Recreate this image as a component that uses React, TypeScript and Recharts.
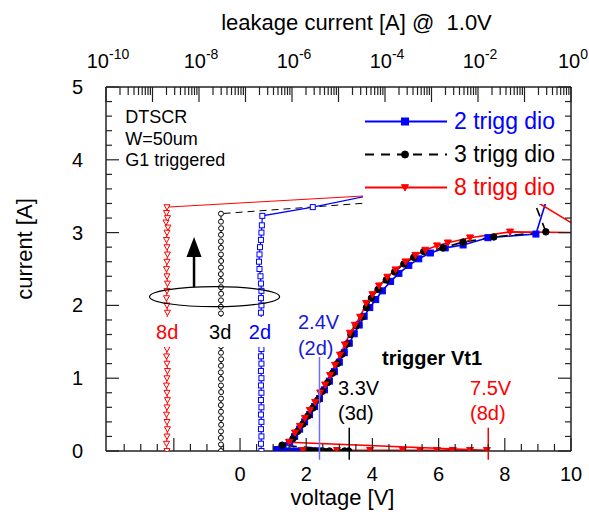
import React from "react";
import { ComposedChart, Line, XAxis, YAxis, Legend, ReferenceLine, ReferenceDot, Label } from "recharts";

const FONT = "'Liberation Sans', Arial, Helvetica, sans-serif";
const BLUE = "#0000ff";
const RED = "#ff0000";
const BLACK = "#000000";
const FRAME = "#222222";

// TLP I-V, 2 trigger diodes (pre-trigger branch, then snapback branch)
const dio2V = [1.25, 1.4, 1.55, 1.7, 1.85, 2.0, 2.15, 2.3, 2.4, 1.1, 1.3, 1.5, 1.65, 1.8, 1.95, 2.1, 2.25, 2.4, 2.55, 2.7, 2.85, 3.0, 3.15, 3.3, 3.45, 3.6, 3.75, 3.92, 4.1, 4.3, 4.55, 4.8, 5.1, 5.4, 5.75, 6.2, 6.74, 7.49, 8.94, 9.4];
const dio2I = [0, 0, 0, 0, 0, 0, 0, 0, 0, 0.02, 0.06, 0.12, 0.2, 0.3, 0.4, 0.5, 0.61, 0.72, 0.84, 0.96, 1.09, 1.22, 1.35, 1.48, 1.61, 1.73, 1.85, 1.97, 2.08, 2.2, 2.33, 2.44, 2.55, 2.64, 2.72, 2.79, 2.83, 2.93, 2.98, 3.65];

// TLP I-V, 3 trigger diodes
const dio3V = [1.95, 2.1, 2.26, 2.5, 2.7, 2.94, 3.16, 3.28, 1.27, 1.6, 1.74, 1.9, 2.05, 2.2, 2.35, 2.49, 2.65, 2.8, 2.94, 3.08, 3.23, 3.35, 3.51, 3.68, 3.82, 3.97, 4.17, 4.42, 4.67, 4.95, 5.25, 5.55, 6.13, 6.74, 7.67, 9.24, 8.64];
const dio3I = [0, 0, 0, 0, 0, 0, 0, 0, 0.08, 0.17, 0.27, 0.37, 0.48, 0.59, 0.7, 0.82, 0.94, 1.07, 1.2, 1.33, 1.47, 1.6, 1.72, 1.84, 1.97, 2.1, 2.22, 2.35, 2.46, 2.57, 2.66, 2.74, 2.79, 2.87, 2.94, 3.01, 3.72];

// TLP I-V, 8 trigger diodes
const dio8V = [1.9, 2.93, 3.93, 4.92, 5.44, 5.95, 6.43, 6.95, 7.46, 1.48, 1.66, 1.81, 1.96, 2.11, 2.27, 2.42, 2.57, 2.72, 2.87, 3.02, 3.17, 3.32, 3.47, 3.63, 3.81, 4.0, 4.2, 4.45, 4.7, 5.0, 5.3, 5.6, 5.95, 6.28, 6.95, 8.16, 10.5, 6.5];
const dio8I = [0.01, 0.01, 0.01, 0.01, 0.01, 0.01, 0.01, 0.01, 0.01, 0.12, 0.25, 0.34, 0.45, 0.56, 0.67, 0.8, 0.91, 1.04, 1.18, 1.32, 1.46, 1.62, 1.73, 1.84, 2.03, 2.15, 2.27, 2.39, 2.49, 2.6, 2.69, 2.76, 2.82, 2.86, 2.93, 3.01, 3.0, 4.1];

// leakage @ 1.0V after each pulse (top axis) vs pulse current
const leak2I = [0, 0.1, 0.2, 0.3, 0.4, 0.5, 0.6, 0.7, 0.8, 0.9, 1.0, 1.1, 1.2, 1.3, 1.4, 1.5, 1.6, 1.7, 1.8, 1.9, 2.0, 2.1, 2.2, 2.3, 2.4, 2.5, 2.6, 2.7, 2.8, 2.9, 3.0, 3.1, 3.23, 3.35, 3.65];
const leak2A = [2.2e-7, 2.15e-7, 2.2e-7, 2.15e-7, 2.2e-7, 2.15e-7, 2.2e-7, 2.15e-7, 2.2e-7, 2.15e-7, 2.2e-7, 2.15e-7, 2.2e-7, 2.15e-7, 2.2e-7, 2.15e-7, 2.2e-7, 2.15e-7, 2.2e-7, 2.15e-7, 2.2e-7, 2.15e-7, 2.2e-7, 2.15e-7, 2.1e-7, 2.0e-7, 1.95e-7, 2.0e-7, 2.05e-7, 2.15e-7, 2.2e-7, 2.25e-7, 2.3e-7, 2.8e-6, 5.6e-4];

const leak3I = [0, 0.09, 0.18, 0.27, 0.36, 0.45, 0.54, 0.63, 0.72, 0.81, 0.9, 0.99, 1.08, 1.17, 1.26, 1.35, 1.44, 1.53, 1.62, 1.71, 1.8, 1.89, 1.98, 2.07, 2.16, 2.25, 2.34, 2.43, 2.52, 2.61, 2.7, 2.79, 2.88, 2.97, 3.06, 3.15, 3.26, 3.49];
const leak3A = [2.97e-8, 2.97e-8, 2.95e-8, 2.97e-8, 2.99e-8, 2.97e-8, 2.97e-8, 2.95e-8, 2.97e-8, 2.99e-8, 2.97e-8, 2.97e-8, 2.95e-8, 2.97e-8, 2.99e-8, 2.97e-8, 2.97e-8, 2.95e-8, 2.97e-8, 2.99e-8, 2.97e-8, 2.97e-8, 2.95e-8, 2.97e-8, 2.99e-8, 2.97e-8, 2.97e-8, 2.95e-8, 2.97e-8, 2.99e-8, 2.97e-8, 2.97e-8, 2.95e-8, 2.97e-8, 2.99e-8, 2.97e-8, 2.97e-8, 2.5e-3];

const leak8I = [0, 0.1, 0.2, 0.3, 0.4, 0.5, 0.6, 0.7, 0.8, 0.9, 1.0, 1.1, 1.2, 1.3, 1.4, 1.5, 1.6, 1.7, 1.8, 1.9, 2.0, 2.1, 2.2, 2.3, 2.4, 2.5, 2.6, 2.7, 2.8, 2.9, 3.0, 3.07, 3.14, 3.2, 3.27, 3.35, 3.57];
const leak8A = [2.05e-9, 2.0e-9, 2.05e-9, 2.1e-9, 2.05e-9, 2.0e-9, 2.05e-9, 2.1e-9, 2.05e-9, 2.0e-9, 2.05e-9, 2.1e-9, 2.05e-9, 2.0e-9, 2.05e-9, 2.1e-9, 2.05e-9, 2.0e-9, 2.05e-9, 2.1e-9, 2.05e-9, 2.0e-9, 2.05e-9, 2.1e-9, 2.05e-9, 2.0e-9, 2.05e-9, 2.1e-9, 2.05e-9, 2.0e-9, 2.05e-9, 2.15e-9, 1.95e-9, 2.1e-9, 2.0e-9, 2.05e-9, 2.5e-3];

// axis ticks
const voltTicks = [-3.5, -3, -2.5, -2, -1.5, -1, -0.5, 0, 0.5, 1, 1.5, 2, 2.5, 3, 3.5, 4, 4.5, 5, 5.5, 6, 6.5, 7, 7.5, 8, 8.5, 9, 9.5, 10];
const voltLabels = [0, 2, 4, 6, 8, 10];
const currTicks = [0, 0.2, 0.4, 0.6, 0.8, 1, 1.2, 1.4, 1.6, 1.8, 2, 2.2, 2.4, 2.6, 2.8, 3, 3.2, 3.4, 3.6, 3.8, 4, 4.2, 4.4, 4.6, 4.8, 5];
const currLabels = [0, 1, 2, 3, 4, 5];
const leakDecades = [-10, -9, -8, -7, -6, -5, -4, -3, -2, -1, 0];
const leakLabelExps = [-10, -8, -6, -4, -2, 0];
const leakMultipliers = [1, 2, 3, 4, 5, 6, 7, 8, 9];
const leakTicks = leakDecades
  .flatMap((e) => leakMultipliers.map((m) => m * Math.pow(10, e)))
  .filter((t) => t <= 1.0000001);

const ivData = (vs: number[], is: number[]) => vs.map((v, k) => ({ v, i: is[k] }));
const leakData = (as: number[], is: number[]) => as.map((leak, k) => ({ leak, i: is[k] }));

const near = (a: number, b: number) => Math.abs(a - b) < 1e-6;

// ---- markers ----
type Shape = "square" | "circle" | "triangle";

function Marker({ shape, cx, cy, size, color, filled }: { shape: Shape; cx: number; cy: number; size: number; color: string; filled: boolean }) {
  const fill = filled ? color : "#ffffff";
  const h = size / 2;
  if (shape === "square") return <rect x={cx - h} y={cy - h} width={size} height={size} fill={fill} stroke={color} strokeWidth={1} />;
  if (shape === "circle") return <circle cx={cx} cy={cy} r={h} fill={fill} stroke={color} strokeWidth={1} />;
  return <polygon points={`${cx - h},${cy - h * 0.8} ${cx + h},${cy - h * 0.8} ${cx},${cy + h}`} fill={fill} stroke={color} strokeWidth={1} />;
}

const dotOf = (shape: Shape, color: string, size: number, filled: boolean) => (p: any) => {
  const { cx, cy, index } = p;
  if (cx == null || cy == null || Number.isNaN(cx) || Number.isNaN(cy)) return <g key={index} />;
  return (
    <g key={index}>
      <Marker shape={shape} cx={cx} cy={cy} size={size} color={color} filled={filled} />
    </g>
  );
};

// ---- ticks (drawn inward, labels outside) ----
const leftTick = (p: any) => {
  const { x, y, payload } = p;
  const v = payload.value;
  const major = currLabels.some((l) => near(l, v));
  return (
    <g>
      <line x1={x} x2={x + (major ? 13 : 6)} y1={y} y2={y} stroke={FRAME} strokeWidth={1.2} />
      {major && (
        <text x={x - 23} y={y} dy="0.35em" textAnchor="end" fontSize={20} fontFamily={FONT} fill="#000">
          {v}
        </text>
      )}
    </g>
  );
};

const rightTick = (p: any) => {
  const { x, y, payload } = p;
  const major = currLabels.some((l) => near(l, payload.value));
  return <line x1={x} x2={x - (major ? 13 : 6)} y1={y} y2={y} stroke={FRAME} strokeWidth={1.2} />;
};

const bottomTick = (p: any) => {
  const { x, y, payload } = p;
  const v = payload.value;
  const major = near(v / 2, Math.round(v / 2));
  const labelled = voltLabels.some((l) => near(l, v));
  return (
    <g>
      <line x1={x} x2={x} y1={y} y2={y - (major ? 13 : 7)} stroke={FRAME} strokeWidth={1.2} />
      {labelled && (
        <text x={x} y={y + 23} dy="0.35em" textAnchor="middle" fontSize={20} fontFamily={FONT} fill="#000">
          {v}
        </text>
      )}
    </g>
  );
};

const topTick = (p: any) => {
  const { x, y, payload } = p;
  const e = Math.log10(payload.value);
  const decade = near(e, Math.round(e));
  const exp = Math.round(e);
  const labelled = decade && leakLabelExps.includes(exp);
  return (
    <g>
      <line x1={x} x2={x} y1={y} y2={y + (decade ? 15 : 8)} stroke={FRAME} strokeWidth={1.2} />
      {labelled && (
        <text x={x + 2} y={y - 19} textAnchor="middle" fontSize={20} fontFamily={FONT} fill="#000">
          <tspan>10</tspan>
          <tspan dy={-9} fontSize={14}>
            {exp}
          </tspan>
        </text>
      )}
    </g>
  );
};

// ---- annotations ----
type Note = { v: number; i: number; text: string; color: string; anchor?: "start" | "middle"; bold?: boolean; size?: number; box?: number };

const notes: Note[] = [
  { v: -3.47, i: 4.59, text: "DTSCR", color: BLACK, size: 18 },
  { v: -3.47, i: 4.29, text: "W=50um", color: BLACK, size: 18 },
  { v: -3.47, i: 4.0, text: "G1 triggered", color: BLACK, size: 18 },
  { v: -2.2, i: 1.635, text: "8d", color: RED, anchor: "middle", size: 20, box: 28 },
  { v: -0.6, i: 1.635, text: "3d", color: BLACK, anchor: "middle", size: 20, box: 28 },
  { v: 0.6, i: 1.635, text: "2d", color: BLUE, anchor: "middle", size: 20, box: 28 },
  { v: 1.75, i: 1.77, text: "2.4V", color: "#1a1ad6", size: 20 },
  { v: 1.75, i: 1.415, text: "(2d)", color: "#1a1ad6", size: 20 },
  { v: 4.29, i: 1.28, text: "trigger Vt1", color: BLACK, bold: true, size: 20 },
  { v: 2.96, i: 0.865, text: "3.3V", color: BLACK, size: 20 },
  { v: 2.96, i: 0.52, text: "(3d)", color: BLACK, size: 20 },
  { v: 6.95, i: 0.865, text: "7.5V", color: RED, size: 20 },
  { v: 6.95, i: 0.52, text: "(8d)", color: RED, size: 20 },
];

const noteShape = (n: Note) => (p: any) => {
  const { cx, cy } = p;
  return (
    <g>
      {n.box && <rect x={cx - n.box / 2} y={cy - 15} width={n.box} height={30} fill="#ffffff" />}
      <text
        x={cx}
        y={cy}
        dy="0.35em"
        textAnchor={n.anchor ?? "start"}
        fontSize={n.size ?? 20}
        fontWeight={n.bold ? "bold" : "normal"}
        fontFamily={FONT}
        fill={n.color}
      >
        {n.text}
      </text>
    </g>
  );
};

const ellipseShape = (p: any) => <ellipse cx={p.cx} cy={p.cy} rx={65} ry={10} fill="none" stroke={BLACK} strokeWidth={1.2} />;

const arrowShape = (p: any) => {
  const { cx, cy } = p;
  return (
    <g>
      <line x1={cx} x2={cx} y1={cy + 18} y2={cy + 50} stroke={BLACK} strokeWidth={2.5} />
      <polygon points={`${cx},${cy} ${cx - 7.5},${cy + 20} ${cx + 7.5},${cy + 20}`} fill={BLACK} />
    </g>
  );
};

const markerLines = [
  { v: 2.4, top: 1.29, color: "#6f6fff" },
  { v: 3.3, top: 0.32, color: BLACK },
  { v: 7.5, top: 0.32, color: RED },
];

// ---- legend ----
const legendRows: { name: string; color: string; dash?: string; shape: Shape }[] = [
  { name: "2 trigg dio", color: BLUE, shape: "square" },
  { name: "3 trigg dio", color: BLACK, dash: "9 7", shape: "circle" },
  { name: "8 trigg dio", color: RED, shape: "triangle" },
];

const renderLegend = () => (
  <div style={{ background: "#ffffff", width: 199, height: 99 }}>
    {legendRows.map((r) => (
      <div key={r.name} style={{ display: "flex", alignItems: "center", height: 33 }}>
        <svg width={86} height={33} style={{ display: "block" }}>
          <line x1={2} x2={84} y1={16.5} y2={16.5} stroke={r.color} strokeWidth={2} strokeDasharray={r.dash} />
          <Marker shape={r.shape} cx={42} cy={16.5} size={7} color={r.color} filled />
        </svg>
        <span style={{ fontFamily: FONT, fontSize: 23, color: r.color, marginLeft: 5, whiteSpace: "nowrap", lineHeight: "33px" }}>{r.name}</span>
      </div>
    ))}
  </div>
);

const titleText = (text: string, dx: number, fromBottom: number) => (p: any) => {
  const vb = p.viewBox;
  return (
    <text x={vb.x + vb.width / 2 + dx} y={vb.y + vb.height - fromBottom} textAnchor="middle" fontSize={22} fontFamily={FONT} fill="#000">
      {text}
    </text>
  );
};

const leakTitle = (p: any) => {
  const vb = p.viewBox;
  return (
    <text x={vb.x + vb.width / 2 + 18} y={vb.y + 30} textAnchor="middle" fontSize={22} fontFamily={FONT} fill="#000">
      {"leakage current [A] @\u00a0 1.0V"}
    </text>
  );
};

const currentTitle = (p: any) => {
  const vb = p.viewBox;
  const x = vb.x + 24;
  const y = vb.y + vb.height / 2 - 20;
  return (
    <text x={x} y={y} transform={`rotate(-90 ${x} ${y})`} dy="0.35em" textAnchor="middle" fontSize={22} fontFamily={FONT} fill="#000">
      current [A]
    </text>
  );
};

export default function App() {
  const frame = { stroke: FRAME, strokeWidth: 1.5 };
  return (
    <>
      <style>{"body{margin:0}"}</style>
      <ComposedChart width={589} height={512} margin={{ top: 0, right: 0, bottom: 0, left: 0 }}>
        <XAxis
          xAxisId="v"
          dataKey="v"
          type="number"
          domain={[-4.05, 10]}
          allowDataOverflow
          ticks={voltTicks}
          interval={0}
          height={61}
          tickSize={0}
          tickMargin={0}
          tickLine={false}
          tick={bottomTick}
          axisLine={frame}
        >
          <Label content={titleText("voltage [V]", 4, 7)} />
        </XAxis>
        <XAxis
          xAxisId="leak"
          dataKey="leak"
          orientation="top"
          type="number"
          scale="log"
          domain={[1e-10, 1]}
          allowDataOverflow
          ticks={leakTicks}
          interval={0}
          height={87}
          tickSize={0}
          tickMargin={0}
          tickLine={false}
          tick={topTick}
          axisLine={frame}
        >
          <Label content={leakTitle} />
        </XAxis>
        <YAxis
          yAxisId="i"
          dataKey="i"
          type="number"
          domain={[0, 5]}
          allowDataOverflow
          ticks={currTicks}
          interval={0}
          width={106}
          tickSize={0}
          tickMargin={0}
          tickLine={false}
          tick={leftTick}
          axisLine={frame}
        >
          <Label content={currentTitle} />
        </YAxis>
        <YAxis
          yAxisId="iR"
          orientation="right"
          type="number"
          domain={[0, 5]}
          allowDataOverflow
          ticks={currTicks}
          interval={0}
          width={18}
          tickSize={0}
          tickMargin={0}
          tickLine={false}
          tick={rightTick}
          axisLine={frame}
        />

        <Line xAxisId="leak" yAxisId="i" data={leakData(leak8A, leak8I)} dataKey="i" stroke={RED} strokeWidth={1} dot={dotOf("triangle", RED, 6, false)} legendType="none" isAnimationActive={false} />
        <Line xAxisId="leak" yAxisId="i" data={leakData(leak3A, leak3I)} dataKey="i" stroke={BLACK} strokeWidth={1} strokeDasharray="7 5" dot={dotOf("circle", BLACK, 5, false)} legendType="none" isAnimationActive={false} />
        <Line xAxisId="leak" yAxisId="i" data={leakData(leak2A, leak2I)} dataKey="i" stroke={BLUE} strokeWidth={1.2} dot={dotOf("square", BLUE, 5, false)} legendType="none" isAnimationActive={false} />

        <Line xAxisId="v" yAxisId="i" data={ivData(dio2V, dio2I)} dataKey="i" name="2 trigg dio" stroke={BLUE} strokeWidth={1.6} dot={dotOf("square", BLUE, 6, true)} isAnimationActive={false} />
        <Line xAxisId="v" yAxisId="i" data={ivData(dio3V, dio3I)} dataKey="i" name="3 trigg dio" stroke={BLACK} strokeWidth={1.6} strokeDasharray="9 7" dot={dotOf("circle", BLACK, 6.5, true)} isAnimationActive={false} />
        <Line xAxisId="v" yAxisId="i" data={ivData(dio8V, dio8I)} dataKey="i" name="8 trigg dio" stroke={RED} strokeWidth={1.6} dot={dotOf("triangle", RED, 7, true)} isAnimationActive={false} />

        {markerLines.map((m) => (
          <ReferenceLine
            key={m.v}
            xAxisId="v"
            yAxisId="i"
            segment={[{ x: m.v, y: m.top }, { x: m.v, y: -0.12 }]}
            ifOverflow="visible"
            stroke={m.color}
            strokeWidth={1.5}
            zIndex={1500}
          />
        ))}
        {notes.map((n, k) => (
          <ReferenceDot key={k} xAxisId="v" yAxisId="i" x={n.v} y={n.i} ifOverflow="visible" shape={noteShape(n)} zIndex={1600} />
        ))}
        <ReferenceDot xAxisId="v" yAxisId="i" x={-0.77} y={2.12} ifOverflow="visible" shape={ellipseShape} zIndex={1600} />
        <ReferenceDot xAxisId="v" yAxisId="i" x={-1.39} y={2.94} ifOverflow="visible" shape={arrowShape} zIndex={1600} />

        <Legend layout="vertical" align="center" verticalAlign="middle" wrapperStyle={{ left: 363, top: 105, width: 199, height: 99 }} content={renderLegend} />
      </ComposedChart>
    </>
  );
}
